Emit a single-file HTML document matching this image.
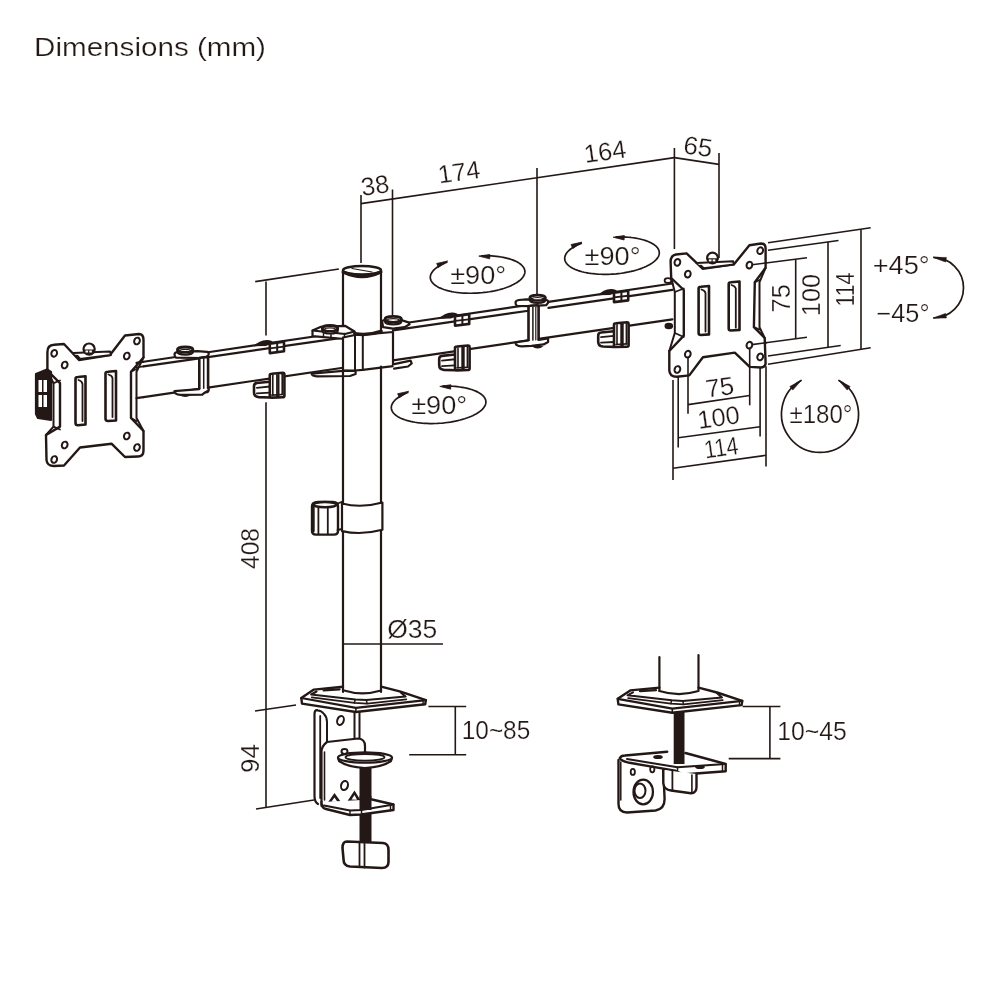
<!DOCTYPE html>
<html><head><meta charset="utf-8"><style>
html,body{margin:0;padding:0;background:#fff;width:1000px;height:1000px;overflow:hidden}
svg{display:block;will-change:transform}
text{font-family:"Liberation Sans",sans-serif}
</style></head><body>
<svg width="1000" height="1000" viewBox="0 0 1000 1000">
<g stroke="#231815" fill="none" stroke-linecap="butt">
<line x1="361.0" y1="195.0" x2="361.0" y2="263.0" stroke-width="1.6"/>
<line x1="392.5" y1="189.5" x2="392.5" y2="315.0" stroke-width="1.6"/>
<line x1="537.0" y1="168.0" x2="537.0" y2="294.0" stroke-width="1.6"/>
<line x1="674.4" y1="148.0" x2="674.4" y2="249.0" stroke-width="1.6"/>
<line x1="719.0" y1="153.0" x2="719.0" y2="258.0" stroke-width="1.6"/>
<line x1="361.0" y1="203.6" x2="674.4" y2="157.6" stroke-width="1.6"/>
<line x1="674.4" y1="157.6" x2="719.0" y2="164.4" stroke-width="1.6"/>
<line x1="255.2" y1="281.6" x2="338.9" y2="269.0" stroke-width="1.6"/>
<line x1="266.0" y1="281.6" x2="266.0" y2="335.6" stroke-width="1.6"/>
<line x1="266.0" y1="402.2" x2="266.0" y2="808.0" stroke-width="1.6"/>
<line x1="255.0" y1="711.0" x2="296.0" y2="705.0" stroke-width="1.6"/>
<line x1="256.0" y1="809.0" x2="314.0" y2="800.0" stroke-width="1.6"/>
<line x1="343.0" y1="644.0" x2="443.0" y2="644.0" stroke-width="1.6"/>
<line x1="428.4" y1="706.5" x2="466.2" y2="706.5" stroke-width="1.6"/>
<line x1="409.2" y1="754.7" x2="466.2" y2="754.7" stroke-width="1.6"/>
<line x1="455.3" y1="706.5" x2="455.3" y2="754.7" stroke-width="1.6"/>
<line x1="742.6" y1="706.5" x2="780.4" y2="706.5" stroke-width="1.6"/>
<line x1="728.7" y1="758.6" x2="780.4" y2="758.6" stroke-width="1.6"/>
<line x1="769.9" y1="706.5" x2="769.9" y2="758.6" stroke-width="1.6"/>
<line x1="768.0" y1="242.7" x2="870.7" y2="227.7" stroke-width="1.6"/>
<line x1="768.0" y1="250.2" x2="838.5" y2="240.5" stroke-width="1.6"/>
<line x1="751.5" y1="264.9" x2="807.0" y2="257.7" stroke-width="1.6"/>
<line x1="751.5" y1="344.6" x2="807.0" y2="337.2" stroke-width="1.6"/>
<line x1="768.0" y1="356.0" x2="840.7" y2="345.5" stroke-width="1.6"/>
<line x1="768.0" y1="364.2" x2="870.7" y2="347.7" stroke-width="1.6"/>
<line x1="795.7" y1="259.2" x2="795.7" y2="338.7" stroke-width="1.6"/>
<line x1="828.0" y1="242.0" x2="828.0" y2="347.0" stroke-width="1.6"/>
<line x1="861.0" y1="229.2" x2="861.0" y2="349.2" stroke-width="1.6"/>
<line x1="688.0" y1="356.5" x2="688.0" y2="413.7" stroke-width="1.6"/>
<line x1="749.7" y1="347.5" x2="749.7" y2="405.3" stroke-width="1.6"/>
<line x1="678.2" y1="372.0" x2="678.2" y2="447.5" stroke-width="1.6"/>
<line x1="760.1" y1="359.5" x2="760.1" y2="436.5" stroke-width="1.6"/>
<line x1="673.0" y1="380.0" x2="673.0" y2="480.0" stroke-width="1.6"/>
<line x1="766.0" y1="366.3" x2="766.0" y2="466.4" stroke-width="1.6"/>
<line x1="688.0" y1="404.6" x2="749.7" y2="395.5" stroke-width="1.6"/>
<line x1="678.2" y1="437.8" x2="760.1" y2="426.7" stroke-width="1.6"/>
<line x1="673.0" y1="468.3" x2="766.0" y2="455.3" stroke-width="1.6"/>
</g>
<g>
<text x="34" y="55.8" font-size="25.5" textLength="232" lengthAdjust="spacingAndGlyphs" fill="#231815" stroke="#fff" stroke-width="0.24">Dimensions (mm)</text>
<text transform="translate(375.00,185.40) rotate(-8)" x="0" y="8.74" font-size="25.4" text-anchor="middle" fill="#231815" stroke="#fff" stroke-width="0.24">38</text>
<text transform="translate(459.00,172.00) rotate(-8)" x="0" y="8.74" font-size="25.4" text-anchor="middle" fill="#231815" stroke="#fff" stroke-width="0.24">174</text>
<text transform="translate(605.00,151.50) rotate(-8)" x="0" y="8.74" font-size="25.4" text-anchor="middle" fill="#231815" stroke="#fff" stroke-width="0.24">164</text>
<text transform="translate(698.00,146.50) rotate(8)" x="0" y="8.74" font-size="25.4" text-anchor="middle" textLength="29" lengthAdjust="spacingAndGlyphs" fill="#231815" stroke="#fff" stroke-width="0.24">65</text>
<text transform="translate(250.00,548.50) rotate(-90)" x="0" y="8.74" font-size="25.4" text-anchor="middle" textLength="41" lengthAdjust="spacingAndGlyphs" fill="#231815" stroke="#fff" stroke-width="0.24">408</text>
<text transform="translate(250.00,758.50) rotate(-90)" x="0" y="8.74" font-size="25.4" text-anchor="middle" textLength="29" lengthAdjust="spacingAndGlyphs" fill="#231815" stroke="#fff" stroke-width="0.24">94</text>
<text transform="translate(412.20,628.80) rotate(0)" x="0" y="8.74" font-size="25.4" text-anchor="middle" textLength="50" lengthAdjust="spacingAndGlyphs" fill="#231815" stroke="#fff" stroke-width="0.24">Ø35</text>
<text transform="translate(496.00,729.90) rotate(0)" x="0" y="8.74" font-size="25.4" text-anchor="middle" textLength="68.5" lengthAdjust="spacingAndGlyphs" fill="#231815" stroke="#fff" stroke-width="0.24">10~85</text>
<text transform="translate(812.00,731.00) rotate(0)" x="0" y="8.74" font-size="25.4" text-anchor="middle" textLength="69.5" lengthAdjust="spacingAndGlyphs" fill="#231815" stroke="#fff" stroke-width="0.24">10~45</text>
<text transform="translate(781.00,298.30) rotate(-90)" x="0" y="8.74" font-size="25.4" text-anchor="middle" fill="#231815" stroke="#fff" stroke-width="0.24">75</text>
<text transform="translate(811.00,295.00) rotate(-90)" x="0" y="8.74" font-size="25.4" text-anchor="middle" fill="#231815" stroke="#fff" stroke-width="0.24">100</text>
<text transform="translate(845.00,289.60) rotate(-90)" x="0" y="8.74" font-size="25.4" text-anchor="middle" textLength="34" lengthAdjust="spacingAndGlyphs" fill="#231815" stroke="#fff" stroke-width="0.24">114</text>
<text transform="translate(719.80,387.10) rotate(-8)" x="0" y="8.74" font-size="25.4" text-anchor="middle" fill="#231815" stroke="#fff" stroke-width="0.24">75</text>
<text transform="translate(718.50,417.30) rotate(-8)" x="0" y="8.74" font-size="25.4" text-anchor="middle" fill="#231815" stroke="#fff" stroke-width="0.24">100</text>
<text transform="translate(721.10,447.50) rotate(-8)" x="0" y="8.74" font-size="25.4" text-anchor="middle" textLength="34" lengthAdjust="spacingAndGlyphs" fill="#231815" stroke="#fff" stroke-width="0.24">114</text>
<text transform="translate(901.20,264.80) rotate(0)" x="0" y="8.74" font-size="25.4" text-anchor="middle" textLength="57" lengthAdjust="spacingAndGlyphs" fill="#231815" stroke="#fff" stroke-width="0.24">+45°</text>
<text transform="translate(903.00,312.80) rotate(0)" x="0" y="8.74" font-size="25.4" text-anchor="middle" textLength="53" lengthAdjust="spacingAndGlyphs" fill="#231815" stroke="#fff" stroke-width="0.24">−45°</text>
<text transform="translate(821.00,414.20) rotate(0)" x="0" y="8.74" font-size="25.4" text-anchor="middle" textLength="63" lengthAdjust="spacingAndGlyphs" fill="#231815" stroke="#fff" stroke-width="0.24">±180°</text>
</g>
<g transform="translate(477.6,274.5)">
<path d="M 3.66,-18.70 L 6.25,-18.75 L 8.83,-18.74 L 11.38,-18.67 L 13.89,-18.54 L 16.36,-18.36 L 18.78,-18.13 L 21.15,-17.83 L 23.45,-17.49 L 25.68,-17.09 L 27.83,-16.64 L 29.89,-16.14 L 31.87,-15.59 L 33.75,-14.99 L 35.52,-14.35 L 37.19,-13.66 L 38.75,-12.93 L 40.18,-12.16 L 41.50,-11.36 L 42.69,-10.52 L 43.74,-9.64 L 44.67,-8.74 L 45.46,-7.82 L 46.11,-6.86 L 46.62,-5.89 L 46.99,-4.90 L 47.22,-3.90 L 47.30,-2.88 L 47.24,-1.85 L 47.04,-0.82 L 46.69,0.21 L 46.20,1.24 L 45.57,2.27 L 44.80,3.30 L 43.90,4.31 L 42.86,5.31 L 41.69,6.29 L 40.39,7.25 L 38.98,8.20 L 37.44,9.11 L 35.79,10.00 L 34.03,10.86 L 32.17,11.69 L 30.20,12.48 L 28.15,13.23 L 26.01,13.94 L 23.80,14.61 L 21.51,15.24 L 19.15,15.82 L 16.74,16.35 L 14.27,16.83 L 11.77,17.26 L 9.22,17.64 L 6.65,17.96 L 4.06,18.23 L 1.46,18.44 L -1.15,18.60 L -3.76,18.70 L -6.35,18.75 L -8.93,18.73 L -11.47,18.66 L -13.98,18.54 L -16.45,18.36 L -18.87,18.12 L -21.24,17.82 L -23.53,17.47 L -25.76,17.07 L -27.91,16.62 L -29.97,16.12 L -31.94,15.56 L -33.82,14.97 L -35.59,14.32 L -37.25,13.63 L -38.80,12.90 L -40.24,12.13 L -41.54,11.32 L -42.73,10.48 L -43.78,9.61 L -44.70,8.71 L -45.49,7.78 L -46.13,6.83 L -46.64,5.86 L -47.00,4.86 L -47.22,3.86 L -47.30,2.84 L -47.24,1.82 L -47.03,0.78 L -46.67,-0.25 L -46.18,-1.28 L -45.54,-2.31 L -44.77,-3.33 L -43.86,-4.35 L -42.82,-5.34 L -41.64,-6.33 L -40.34,-7.29 L -38.92,-8.23 L -37.38,-9.15 L -35.72,-10.04 L -33.96,-10.89 L -32.09,-11.72 L -30.13,-12.51" fill="none" stroke="#231815" stroke-width="1.7" stroke-linejoin="round"/>
<path d="M -30.00,-13.50 L -39.17,-7.04 L -40.95,-11.06 Z M 1.20,-18.40 L 12.30,-20.05 L 12.08,-15.65 Z" fill="#231815" stroke="#231815" stroke-width="0.8"/>
<text transform="translate(0.60,0.80) rotate(0)" x="0" y="8.74" font-size="25.4" text-anchor="middle" textLength="56" lengthAdjust="spacingAndGlyphs" fill="#231815" stroke="#fff" stroke-width="0.24">±90°</text>
</g>
<g transform="translate(612,255.6)">
<path d="M 3.66,-18.70 L 6.25,-18.75 L 8.83,-18.74 L 11.38,-18.67 L 13.89,-18.54 L 16.36,-18.36 L 18.78,-18.13 L 21.15,-17.83 L 23.45,-17.49 L 25.68,-17.09 L 27.83,-16.64 L 29.89,-16.14 L 31.87,-15.59 L 33.75,-14.99 L 35.52,-14.35 L 37.19,-13.66 L 38.75,-12.93 L 40.18,-12.16 L 41.50,-11.36 L 42.69,-10.52 L 43.74,-9.64 L 44.67,-8.74 L 45.46,-7.82 L 46.11,-6.86 L 46.62,-5.89 L 46.99,-4.90 L 47.22,-3.90 L 47.30,-2.88 L 47.24,-1.85 L 47.04,-0.82 L 46.69,0.21 L 46.20,1.24 L 45.57,2.27 L 44.80,3.30 L 43.90,4.31 L 42.86,5.31 L 41.69,6.29 L 40.39,7.25 L 38.98,8.20 L 37.44,9.11 L 35.79,10.00 L 34.03,10.86 L 32.17,11.69 L 30.20,12.48 L 28.15,13.23 L 26.01,13.94 L 23.80,14.61 L 21.51,15.24 L 19.15,15.82 L 16.74,16.35 L 14.27,16.83 L 11.77,17.26 L 9.22,17.64 L 6.65,17.96 L 4.06,18.23 L 1.46,18.44 L -1.15,18.60 L -3.76,18.70 L -6.35,18.75 L -8.93,18.73 L -11.47,18.66 L -13.98,18.54 L -16.45,18.36 L -18.87,18.12 L -21.24,17.82 L -23.53,17.47 L -25.76,17.07 L -27.91,16.62 L -29.97,16.12 L -31.94,15.56 L -33.82,14.97 L -35.59,14.32 L -37.25,13.63 L -38.80,12.90 L -40.24,12.13 L -41.54,11.32 L -42.73,10.48 L -43.78,9.61 L -44.70,8.71 L -45.49,7.78 L -46.13,6.83 L -46.64,5.86 L -47.00,4.86 L -47.22,3.86 L -47.30,2.84 L -47.24,1.82 L -47.03,0.78 L -46.67,-0.25 L -46.18,-1.28 L -45.54,-2.31 L -44.77,-3.33 L -43.86,-4.35 L -42.82,-5.34 L -41.64,-6.33 L -40.34,-7.29 L -38.92,-8.23 L -37.38,-9.15 L -35.72,-10.04 L -33.96,-10.89 L -32.09,-11.72 L -30.13,-12.51" fill="none" stroke="#231815" stroke-width="1.7" stroke-linejoin="round"/>
<path d="M -30.00,-13.50 L -39.17,-7.04 L -40.95,-11.06 Z M 1.20,-18.40 L 12.30,-20.05 L 12.08,-15.65 Z" fill="#231815" stroke="#231815" stroke-width="0.8"/>
<text transform="translate(0.60,0.80) rotate(0)" x="0" y="8.74" font-size="25.4" text-anchor="middle" textLength="56" lengthAdjust="spacingAndGlyphs" fill="#231815" stroke="#fff" stroke-width="0.24">±90°</text>
</g>
<g transform="translate(438.6,404.8)">
<path d="M 3.66,-18.70 L 6.25,-18.75 L 8.83,-18.74 L 11.38,-18.67 L 13.89,-18.54 L 16.36,-18.36 L 18.78,-18.13 L 21.15,-17.83 L 23.45,-17.49 L 25.68,-17.09 L 27.83,-16.64 L 29.89,-16.14 L 31.87,-15.59 L 33.75,-14.99 L 35.52,-14.35 L 37.19,-13.66 L 38.75,-12.93 L 40.18,-12.16 L 41.50,-11.36 L 42.69,-10.52 L 43.74,-9.64 L 44.67,-8.74 L 45.46,-7.82 L 46.11,-6.86 L 46.62,-5.89 L 46.99,-4.90 L 47.22,-3.90 L 47.30,-2.88 L 47.24,-1.85 L 47.04,-0.82 L 46.69,0.21 L 46.20,1.24 L 45.57,2.27 L 44.80,3.30 L 43.90,4.31 L 42.86,5.31 L 41.69,6.29 L 40.39,7.25 L 38.98,8.20 L 37.44,9.11 L 35.79,10.00 L 34.03,10.86 L 32.17,11.69 L 30.20,12.48 L 28.15,13.23 L 26.01,13.94 L 23.80,14.61 L 21.51,15.24 L 19.15,15.82 L 16.74,16.35 L 14.27,16.83 L 11.77,17.26 L 9.22,17.64 L 6.65,17.96 L 4.06,18.23 L 1.46,18.44 L -1.15,18.60 L -3.76,18.70 L -6.35,18.75 L -8.93,18.73 L -11.47,18.66 L -13.98,18.54 L -16.45,18.36 L -18.87,18.12 L -21.24,17.82 L -23.53,17.47 L -25.76,17.07 L -27.91,16.62 L -29.97,16.12 L -31.94,15.56 L -33.82,14.97 L -35.59,14.32 L -37.25,13.63 L -38.80,12.90 L -40.24,12.13 L -41.54,11.32 L -42.73,10.48 L -43.78,9.61 L -44.70,8.71 L -45.49,7.78 L -46.13,6.83 L -46.64,5.86 L -47.00,4.86 L -47.22,3.86 L -47.30,2.84 L -47.24,1.82 L -47.03,0.78 L -46.67,-0.25 L -46.18,-1.28 L -45.54,-2.31 L -44.77,-3.33 L -43.86,-4.35 L -42.82,-5.34 L -41.64,-6.33 L -40.34,-7.29 L -38.92,-8.23 L -37.38,-9.15 L -35.72,-10.04 L -33.96,-10.89 L -32.09,-11.72 L -30.13,-12.51" fill="none" stroke="#231815" stroke-width="1.7" stroke-linejoin="round"/>
<path d="M -30.00,-13.50 L -39.17,-7.04 L -40.95,-11.06 Z M 1.20,-18.40 L 12.30,-20.05 L 12.08,-15.65 Z" fill="#231815" stroke="#231815" stroke-width="0.8"/>
<text transform="translate(0.60,0.80) rotate(0)" x="0" y="8.74" font-size="25.4" text-anchor="middle" textLength="56" lengthAdjust="spacingAndGlyphs" fill="#231815" stroke="#fff" stroke-width="0.24">±90°</text>
</g>
<path d="M 933.2,257.4 A 30.3 30.3 0 0 1 933.2,318" fill="none" stroke="#231815" stroke-width="1.7"/>
<path d="M 933.20,257.40 L 946.40,257.44 L 945.59,261.97 Z M 933.20,318.00 L 945.59,313.43 L 946.40,317.96 Z" fill="#231815" stroke="#231815" stroke-width="0.6"/>
<path d="M 801.5,380.2 A 38.5 38.5 0 1 0 838.5,380.2" fill="none" stroke="#231815" stroke-width="1.7"/>
<path d="M 801.50,380.20 L 792.74,390.07 L 789.88,386.47 Z M 838.50,380.20 L 850.12,386.47 L 847.26,390.07 Z" fill="#231815" stroke="#231815" stroke-width="0.6"/>
<line x1="143.5" y1="361.78" x2="199.3" y2="353.52" stroke="#231815" stroke-width="2.2" stroke-linecap="round"/>
<line x1="143.5" y1="366.38" x2="199.3" y2="358.32" stroke="#231815" stroke-width="2.2" stroke-linecap="round"/>
<line x1="143.5" y1="397.04" x2="199.3" y2="388.84" stroke="#231815" stroke-width="2.2" stroke-linecap="round"/>
<line x1="208" y1="352.23" x2="343" y2="332.25" stroke="#231815" stroke-width="2.2" stroke-linecap="round"/>
<line x1="208" y1="357.06" x2="343" y2="337.56" stroke="#231815" stroke-width="2.2" stroke-linecap="round"/>
<line x1="208" y1="387.56" x2="343" y2="367.72" stroke="#231815" stroke-width="2.2" stroke-linecap="round"/>
<line x1="409" y1="322.48" x2="528.5" y2="304.8" stroke="#231815" stroke-width="2.2" stroke-linecap="round"/>
<line x1="393" y1="330.33" x2="528.5" y2="310.75" stroke="#231815" stroke-width="2.2" stroke-linecap="round"/>
<line x1="393" y1="360.37" x2="528.5" y2="340.45" stroke="#231815" stroke-width="2.2" stroke-linecap="round"/>
<line x1="548.4" y1="301.85" x2="672.4" y2="283.5" stroke="#231815" stroke-width="2.2" stroke-linecap="round"/>
<line x1="548.4" y1="307.88" x2="672.4" y2="289.96" stroke="#231815" stroke-width="2.2" stroke-linecap="round"/>
<line x1="538.6" y1="338.96" x2="672.4" y2="319.3" stroke="#231815" stroke-width="2.2" stroke-linecap="round"/>
<path d="M 253.8,346.25 Q 258.8,340.21 266.8,339.93 Q 271.8,339.79 273.8,342.99 L 265.8,345.88 Z" fill="#231815"/>
<path d="M 269.8,343.69 L 284,341.69 L 284,351.29 L 269.8,353.09 Z" fill="#fff" stroke="#231815" stroke-width="2.6" stroke-linejoin="round" stroke-linecap="round" />
<line x1="277.2" y1="342.89" x2="277.2" y2="352.29" stroke="#231815" stroke-width="2" stroke-linecap="round"/>
<line x1="269.8" y1="348.29" x2="284" y2="346.69" stroke="#231815" stroke-width="1.8" stroke-linecap="round"/>
<path d="M 269.8,381.78 L 256.8,383.08 Q 254,383.28 254,386.28 L 254,392.28 Q 254,396.78 258.8,397.08 L 269.8,397.48" fill="#fff" stroke="#231815" stroke-width="2.6" stroke-linejoin="round" stroke-linecap="round" />
<line x1="256.8" y1="387.78" x2="269.8" y2="386.48" stroke="#231815" stroke-width="1.8" stroke-linecap="round"/>
<line x1="256.8" y1="393.28" x2="269.8" y2="392.58" stroke="#231815" stroke-width="1.8" stroke-linecap="round"/>
<path d="M 269.8,375.28 Q 269.8,373.78 271.8,373.78 L 282.8,372.78 Q 284.4,372.78 284.4,374.78 L 284.4,395.78 Q 284.4,397.28 282.8,397.28 L 271.8,397.58 Q 269.8,397.58 269.8,395.78 Z" fill="#fff" stroke="#231815" stroke-width="2.6" stroke-linejoin="round" stroke-linecap="round" />
<line x1="272.8" y1="375.28" x2="272.8" y2="394.78" stroke="#231815" stroke-width="1.6" stroke-linecap="round"/>
<line x1="277" y1="374.78" x2="277" y2="397.28" stroke="#231815" stroke-width="1.8" stroke-linecap="round"/>
<line x1="278.6" y1="374.78" x2="278.6" y2="397.28" stroke="#231815" stroke-width="1.8" stroke-linecap="round"/>
<line x1="282.2" y1="374.28" x2="282.2" y2="394.28" stroke="#231815" stroke-width="1.6" stroke-linecap="round"/>
<line x1="271.8" y1="395.08" x2="282.8" y2="394.48" stroke="#231815" stroke-width="1.6" stroke-linecap="round"/>
<path d="M 439,318.84 Q 444,312.8 452,312.52 Q 457,312.38 459,315.58 L 451,318.47 Z" fill="#231815"/>
<path d="M 455,316.28 L 469.2,314.28 L 469.2,323.88 L 455,325.68 Z" fill="#fff" stroke="#231815" stroke-width="2.6" stroke-linejoin="round" stroke-linecap="round" />
<line x1="462.4" y1="315.48" x2="462.4" y2="324.88" stroke="#231815" stroke-width="2" stroke-linecap="round"/>
<line x1="455" y1="320.88" x2="469.2" y2="319.28" stroke="#231815" stroke-width="1.8" stroke-linecap="round"/>
<path d="M 455,354.55 L 442,355.85 Q 439.2,356.05 439.2,359.05 L 439.2,365.05 Q 439.2,369.55 444,369.85 L 455,370.25" fill="#fff" stroke="#231815" stroke-width="2.6" stroke-linejoin="round" stroke-linecap="round" />
<line x1="442" y1="360.55" x2="455" y2="359.25" stroke="#231815" stroke-width="1.8" stroke-linecap="round"/>
<line x1="442" y1="366.05" x2="455" y2="365.35" stroke="#231815" stroke-width="1.8" stroke-linecap="round"/>
<path d="M 455,348.05 Q 455,346.55 457,346.55 L 468,345.55 Q 469.6,345.55 469.6,347.55 L 469.6,368.55 Q 469.6,370.05 468,370.05 L 457,370.35 Q 455,370.35 455,368.55 Z" fill="#fff" stroke="#231815" stroke-width="2.6" stroke-linejoin="round" stroke-linecap="round" />
<line x1="458" y1="348.05" x2="458" y2="367.55" stroke="#231815" stroke-width="1.6" stroke-linecap="round"/>
<line x1="462.2" y1="347.55" x2="462.2" y2="370.05" stroke="#231815" stroke-width="1.8" stroke-linecap="round"/>
<line x1="463.8" y1="347.55" x2="463.8" y2="370.05" stroke="#231815" stroke-width="1.8" stroke-linecap="round"/>
<line x1="467.4" y1="347.05" x2="467.4" y2="367.05" stroke="#231815" stroke-width="1.6" stroke-linecap="round"/>
<line x1="457" y1="367.85" x2="468" y2="367.25" stroke="#231815" stroke-width="1.6" stroke-linecap="round"/>
<path d="M 598,295.31 Q 603,289.27 611,288.99 Q 616,288.85 618,292.05 L 610,294.94 Z" fill="#231815"/>
<path d="M 614,292.74 L 628.2,290.74 L 628.2,300.34 L 614,302.14 Z" fill="#fff" stroke="#231815" stroke-width="2.6" stroke-linejoin="round" stroke-linecap="round" />
<line x1="621.4" y1="291.94" x2="621.4" y2="301.34" stroke="#231815" stroke-width="2" stroke-linecap="round"/>
<line x1="614" y1="297.34" x2="628.2" y2="295.74" stroke="#231815" stroke-width="1.8" stroke-linecap="round"/>
<path d="M 614,331.18 L 601,332.48 Q 598.2,332.68 598.2,335.68 L 598.2,341.68 Q 598.2,346.18 603,346.48 L 614,346.88" fill="#fff" stroke="#231815" stroke-width="2.6" stroke-linejoin="round" stroke-linecap="round" />
<line x1="601" y1="337.18" x2="614" y2="335.88" stroke="#231815" stroke-width="1.8" stroke-linecap="round"/>
<line x1="601" y1="342.68" x2="614" y2="341.98" stroke="#231815" stroke-width="1.8" stroke-linecap="round"/>
<path d="M 614,324.68 Q 614,323.18 616,323.18 L 627,322.18 Q 628.6,322.18 628.6,324.18 L 628.6,345.18 Q 628.6,346.68 627,346.68 L 616,346.98 Q 614,346.98 614,345.18 Z" fill="#fff" stroke="#231815" stroke-width="2.6" stroke-linejoin="round" stroke-linecap="round" />
<line x1="617" y1="324.68" x2="617" y2="344.18" stroke="#231815" stroke-width="1.6" stroke-linecap="round"/>
<line x1="621.2" y1="324.18" x2="621.2" y2="346.68" stroke="#231815" stroke-width="1.8" stroke-linecap="round"/>
<line x1="622.8" y1="324.18" x2="622.8" y2="346.68" stroke="#231815" stroke-width="1.8" stroke-linecap="round"/>
<line x1="626.4" y1="323.68" x2="626.4" y2="343.68" stroke="#231815" stroke-width="1.6" stroke-linecap="round"/>
<line x1="616" y1="344.48" x2="627" y2="343.88" stroke="#231815" stroke-width="1.6" stroke-linecap="round"/>
<path d="M 174.5,354.6 Q 174.5,352.1 178,351.8 L 197.3,351.1 L 207.1,351.8 Q 209.1,352.6 208.6,354.6 L 206.6,357 L 200.8,358 L 176,357.6 Q 174.5,356.6 174.5,354.6 Z" fill="#fff" stroke="#231815" stroke-width="2.2" stroke-linejoin="round" stroke-linecap="round" />
<path d="M 177.5,349.6 L 177.5,352 A 7.7 2.6 0 0 0 192.9,352 L 192.9,349.6" fill="#fff" stroke="#231815" stroke-width="2.2" stroke-linejoin="round" stroke-linecap="round" />
<ellipse cx="185.2" cy="349.6" rx="7.7" ry="2.6" fill="#fff" stroke="#231815" stroke-width="2.8" transform="rotate(0 185.2 349.6)"/>
<ellipse cx="185.2" cy="350.5" rx="5.2" ry="1.2" fill="#fff" stroke="#231815" stroke-width="1.2" transform="rotate(0 185.2 350.5)"/>
<path d="M 199.3,359.1 Q 199.3,357.6 200.8,357.6 L 206.6,357 Q 208.1,357 208.1,358.6 L 208.1,390.55 Q 208.1,392.05 206.6,392.05 L 200.8,392.55 Q 199.3,392.55 199.3,391.05 Z" fill="#fff" stroke="#231815" stroke-width="2.6" stroke-linejoin="round" stroke-linecap="round" />
<line x1="203.7" y1="358.6" x2="203.7" y2="391.55" stroke="#231815" stroke-width="1.5" stroke-linecap="round"/>
<path d="M 174.5,391.05 L 199.3,389.05 M 208.1,388.55 L 208.6,387.05 L 208.6,390.55 L 204.1,393.05 L 202.3,394.55 L 180.5,394.95 Q 174.5,394.55 174.5,391.05" fill="#fff" stroke="#231815" stroke-width="2.2" stroke-linejoin="round" stroke-linecap="round" />
<path d="M 179.2,394.55 Q 185.2,399.55 191.2,394.55 Z" fill="#231815"/>
<path d="M 515.5,302.8 Q 515.5,300.3 519,300 L 526.5,299.3 L 546.6,300 Q 548.6,300.8 548.1,302.8 L 546.1,305.2 L 530,306.2 L 517,305.8 Q 515.5,304.8 515.5,302.8 Z" fill="#fff" stroke="#231815" stroke-width="2.2" stroke-linejoin="round" stroke-linecap="round" />
<path d="M 529.9,297.8 L 529.9,300.2 A 7.7 2.6 0 0 0 545.3,300.2 L 545.3,297.8" fill="#fff" stroke="#231815" stroke-width="2.2" stroke-linejoin="round" stroke-linecap="round" />
<ellipse cx="537.6" cy="297.8" rx="7.7" ry="2.6" fill="#fff" stroke="#231815" stroke-width="2.8" transform="rotate(0 537.6 297.8)"/>
<ellipse cx="537.6" cy="298.7" rx="5.2" ry="1.2" fill="#fff" stroke="#231815" stroke-width="1.2" transform="rotate(0 537.6 298.7)"/>
<path d="M 528.5,307.3 Q 528.5,305.8 530,305.8 L 537.1,305.2 Q 538.6,305.2 538.6,306.8 L 538.6,341.96 Q 538.6,343.46 537.1,343.46 L 530,343.96 Q 528.5,343.96 528.5,342.46 Z" fill="#fff" stroke="#231815" stroke-width="2.6" stroke-linejoin="round" stroke-linecap="round" />
<line x1="532.9" y1="306.8" x2="532.9" y2="342.96" stroke="#231815" stroke-width="1.5" stroke-linecap="round"/>
<line x1="535.8" y1="307.3" x2="535.8" y2="342.46" stroke="#231815" stroke-width="1.2" stroke-linecap="round"/>
<path d="M 515.5,342.46 L 528.5,340.46 M 538.6,339.96 L 548.1,338.46 L 548.1,341.96 L 543.6,344.46 L 531.5,345.96 L 521.5,346.36 Q 515.5,345.96 515.5,342.46" fill="#fff" stroke="#231815" stroke-width="2.2" stroke-linejoin="round" stroke-linecap="round" />
<path d="M 531.6,345.96 Q 537.6,350.96 543.6,345.96 Z" fill="#231815"/>
<line x1="343" y1="270.5" x2="343" y2="336" stroke="#231815" stroke-width="2.2" stroke-linecap="round"/>
<line x1="381" y1="270.5" x2="381" y2="332" stroke="#231815" stroke-width="2.2" stroke-linecap="round"/>
<ellipse cx="362" cy="270.2" rx="19" ry="4.2" fill="#fff" stroke="#231815" stroke-width="2.4" transform="rotate(0 362 270.2)"/>
<path d="M 343.2,272 Q 362,281 380.8,272" fill="none" stroke="#231815" stroke-width="3.4" stroke-linejoin="round" stroke-linecap="round" />
<line x1="352" y1="268.5" x2="372" y2="272" stroke="#231815" stroke-width="1.2" stroke-linecap="round"/>
<path d="M 312.5,330.5 L 321,326.8 L 345,325.8 L 354.5,331.5 L 354.5,336 L 345,339 L 312.5,336.2 Z" fill="#fff" stroke="#231815" stroke-width="2.2" stroke-linejoin="round" stroke-linecap="round" />
<path d="M 312.5,330.5 L 345,334 L 354.5,331.5" fill="none" stroke="#231815" stroke-width="2" stroke-linejoin="round" stroke-linecap="round" />
<line x1="323.5" y1="333.5" x2="323.5" y2="337.5" stroke="#231815" stroke-width="1.5" stroke-linecap="round"/>
<line x1="331" y1="333.5" x2="331" y2="337.5" stroke="#231815" stroke-width="1.5" stroke-linecap="round"/>
<line x1="344.5" y1="333.5" x2="344.5" y2="337.5" stroke="#231815" stroke-width="1.5" stroke-linecap="round"/>
<path d="M 322.25,328.3 L 322.25,330.7 A 7.75 2.8 0 0 0 337.75,330.7 L 337.75,328.3" fill="#fff" stroke="#231815" stroke-width="2.2" stroke-linejoin="round" stroke-linecap="round" />
<ellipse cx="330" cy="328.3" rx="7.75" ry="2.8" fill="#fff" stroke="#231815" stroke-width="2.8" transform="rotate(0 330 328.3)"/>
<ellipse cx="330" cy="329.2" rx="5.25" ry="1.4" fill="#fff" stroke="#231815" stroke-width="1.2" transform="rotate(0 330 329.2)"/>
<path d="M 382,320.9 L 391.9,317 L 408.4,322.4 L 409.6,324.3 L 404.6,327.2 L 393,328.7 L 383.1,327.2 Z" fill="#fff" stroke="#231815" stroke-width="2.2" stroke-linejoin="round" stroke-linecap="round" />
<path d="M 385,319.2 L 385,321.6 A 8.2 2.8 0 0 0 401.4,321.6 L 401.4,319.2" fill="#fff" stroke="#231815" stroke-width="2.2" stroke-linejoin="round" stroke-linecap="round" />
<ellipse cx="393.2" cy="319.2" rx="8.2" ry="2.8" fill="#fff" stroke="#231815" stroke-width="2.8" transform="rotate(0 393.2 319.2)"/>
<ellipse cx="393.2" cy="320.1" rx="5.7" ry="1.4" fill="#fff" stroke="#231815" stroke-width="1.2" transform="rotate(0 393.2 320.1)"/>
<path d="M 343,337.5 L 355,335 L 362.8,334.6 L 393,332 L 393,366.2 L 362.8,369.8 L 355,370.5 L 343,370.5 Z" fill="#fff" stroke="#231815" stroke-width="2.2" stroke-linejoin="round" stroke-linecap="round" />
<line x1="355" y1="335.5" x2="355" y2="370.5" stroke="#231815" stroke-width="2" stroke-linecap="round"/>
<line x1="362.8" y1="334.8" x2="362.8" y2="369.8" stroke="#231815" stroke-width="2" stroke-linecap="round"/>
<path d="M 355,333.8 Q 368,336 381,331.4" fill="none" stroke="#231815" stroke-width="3.6" stroke-linejoin="round" stroke-linecap="round" />
<path d="M 311.6,373.6 L 343,370.8 L 355.6,371 L 355.6,374 L 350,376 L 317,376.4 Q 311.6,376 311.6,373.6 Z" fill="#fff" stroke="#231815" stroke-width="2.2" stroke-linejoin="round" stroke-linecap="round" />
<path d="M 393,364.4 L 410.6,360.6 L 411.7,363.5 L 408,366.5 L 394.1,368.6" fill="#fff" stroke="#231815" stroke-width="2.2" stroke-linejoin="round" stroke-linecap="round" />
<line x1="343" y1="370.5" x2="343" y2="692" stroke="#231815" stroke-width="2.2" stroke-linecap="round"/>
<line x1="381" y1="366.5" x2="381" y2="692" stroke="#231815" stroke-width="2.2" stroke-linecap="round"/>
<path d="M 342,503.5 Q 361,508.5 382.4,502.5 L 382.4,529.8 Q 361,535.5 342,531.1 Z" fill="#fff" stroke="#231815" stroke-width="2.2" stroke-linejoin="round" stroke-linecap="round" />
<path d="M 312,506 Q 312,502.5 318,502 L 333,502 Q 338,502.5 338,506 L 338,531 Q 338,534.6 334,534.6 L 316,534.6 Q 312,534.4 312,531 Z" fill="#fff" stroke="#231815" stroke-width="2.4" stroke-linejoin="round" stroke-linecap="round" />
<ellipse cx="325" cy="504.6" rx="11.5" ry="2.6" fill="#fff" stroke="#231815" stroke-width="2.6" transform="rotate(0 325 504.6)"/>
<path d="M 313.2,506 L 313.2,531" fill="none" stroke="#231815" stroke-width="3" stroke-linejoin="round" stroke-linecap="round" />
<line x1="318.4" y1="508" x2="318.4" y2="534" stroke="#231815" stroke-width="1.8" stroke-linecap="round"/>
<line x1="327.8" y1="508" x2="327.8" y2="534" stroke="#231815" stroke-width="1.8" stroke-linecap="round"/>
<path d="M 337.5,503.5 L 342,501.8 M 337.5,530 L 342,529" fill="none" stroke="#231815" stroke-width="1.8" stroke-linejoin="round" stroke-linecap="round" />
<path d="M 301.3,698 L 313.9,689.6 L 343,686.8 M 382.1,686.8 L 400.6,691.7 L 425.9,700.1 L 425.2,704.3 L 355.9,712 L 302,703.6 L 301.3,698" fill="none" stroke="#231815" stroke-width="2.4" stroke-linejoin="round" stroke-linecap="round" />
<path d="M 301.3,698 L 355.9,707.8 L 425.9,700.1" fill="none" stroke="#231815" stroke-width="2.2" stroke-linejoin="round" stroke-linecap="round" />
<line x1="355.9" y1="707.8" x2="355.9" y2="712" stroke="#231815" stroke-width="1.6" stroke-linecap="round"/>
<line x1="423.1" y1="700.7" x2="423.1" y2="704.7" stroke="#231815" stroke-width="1.4" stroke-linecap="round"/>
<path d="M 316.6,691.5 L 311.1,694.5 L 355.2,699.4 L 366.4,700.1 L 405.6,696.6 L 400.7,692.4" fill="none" stroke="#231815" stroke-width="2" stroke-linejoin="round" stroke-linecap="round" />
<path d="M 311.8,697.3 L 354.5,702.9 L 367.1,703.6 L 406.3,699.4" fill="none" stroke="#231815" stroke-width="1.8" stroke-linejoin="round" stroke-linecap="round" />
<line x1="355.2" y1="699.4" x2="354.5" y2="702.9" stroke="#231815" stroke-width="1.5" stroke-linecap="round"/>
<line x1="366.4" y1="700.1" x2="367.1" y2="703.6" stroke="#231815" stroke-width="1.5" stroke-linecap="round"/>
<path d="M 323.6,690.4 L 339.6,689.4" fill="none" stroke="#231815" stroke-width="2.2" stroke-linejoin="round" stroke-linecap="round" />
<path d="M 343,690.2 Q 362.2,696.2 381.1,690.5" fill="none" stroke="#231815" stroke-width="2.2" stroke-linejoin="round" stroke-linecap="round" />
<path d="M 317,710 Q 314.5,710 314.5,714 L 314.5,796 Q 314.5,802 318,804" fill="none" stroke="#231815" stroke-width="2.2" stroke-linejoin="round" stroke-linecap="round" />
<path d="M 317,710.5 Q 321,710 324,714 Q 327,717 327,722 L 327,742" fill="none" stroke="#231815" stroke-width="2" stroke-linejoin="round" stroke-linecap="round" />
<line x1="320.2" y1="716" x2="320.2" y2="798" stroke="#231815" stroke-width="1.8" stroke-linecap="round"/>
<line x1="354.5" y1="712" x2="354.5" y2="739" stroke="#231815" stroke-width="2" stroke-linecap="round"/>
<line x1="359.5" y1="712" x2="359.5" y2="738.5" stroke="#231815" stroke-width="2" stroke-linecap="round"/>
<ellipse cx="340.5" cy="720.5" rx="3.2" ry="4.6" fill="none" stroke="#231815" stroke-width="2" transform="rotate(20 340.5 720.5)"/>
<path d="M 321.5,806 L 321.5,752 Q 321.5,746 327,742 L 358,738.5 Q 365,739 365,746 L 365,752" fill="#fff" stroke="#231815" stroke-width="2.2" stroke-linejoin="round" stroke-linecap="round" />
<line x1="324.5" y1="752" x2="324.5" y2="800" stroke="#231815" stroke-width="1.6" stroke-linecap="round"/>
<path d="M 338,758 L 339,761 Q 347,767 365,768 Q 383,767 391,761 L 392,758" fill="#fff" stroke="#231815" stroke-width="2.2" stroke-linejoin="round" stroke-linecap="round" />
<ellipse cx="365" cy="757.5" rx="27" ry="5.2" fill="#fff" stroke="#231815" stroke-width="2.2" transform="rotate(0 365 757.5)"/>
<ellipse cx="365" cy="757.3" rx="19.5" ry="3.3" fill="none" stroke="#231815" stroke-width="1.8" transform="rotate(0 365 757.3)"/>
<ellipse cx="344.5" cy="751.5" rx="3" ry="2.4" fill="#fff" stroke="#231815" stroke-width="2" transform="rotate(0 344.5 751.5)"/>
<rect x="359.5" y="767.5" width="12" height="39" fill="#231815"/>
<rect x="359.5" y="814" width="12" height="28" fill="#231815"/>
<path d="M 327.5,803 L 334.5,793 L 342,803.5 Z M 347.5,801 L 354.5,790.5 L 361,801 Z" fill="#231815"/>
<path d="M 331.5,801.5 L 334.5,797.5 L 337.5,802 Z M 351.5,799.5 L 354.5,795 L 357,799.8 Z" fill="#fff"/>
<ellipse cx="344.5" cy="785.5" rx="3.4" ry="4.6" fill="none" stroke="#231815" stroke-width="2" transform="rotate(15 344.5 785.5)"/>
<path d="M 321.5,802 Q 321.5,808 326,809 L 350,815 L 361,814.5 L 393.5,810 L 393.5,804.5 L 372,799.5" fill="#fff" stroke="#231815" stroke-width="2.4" stroke-linejoin="round" stroke-linecap="round" />
<path d="M 324,805.5 L 350,810.5 L 361.5,810 L 393.5,804.5" fill="none" stroke="#231815" stroke-width="2" stroke-linejoin="round" stroke-linecap="round" />
<line x1="350" y1="810.5" x2="350" y2="815" stroke="#231815" stroke-width="1.5" stroke-linecap="round"/>
<line x1="361.5" y1="810" x2="361.5" y2="814.5" stroke="#231815" stroke-width="1.5" stroke-linecap="round"/>
<line x1="390.5" y1="805.5" x2="390.5" y2="810.5" stroke="#231815" stroke-width="1.5" stroke-linecap="round"/>
<rect x="359.5" y="796" width="12" height="14" fill="#231815"/>
<path d="M 347,841.5 L 383,843 Q 388.5,843.5 388.5,850 L 388.5,862 Q 388.5,868 382,868 L 350,866.5 Q 343.5,866 343.5,859 L 342.5,848 Q 342.5,841.5 347,841.5 Z" fill="#fff" stroke="#231815" stroke-width="2.6" stroke-linejoin="round" stroke-linecap="round" />
<line x1="359.5" y1="842" x2="359.5" y2="867" stroke="#231815" stroke-width="1.8" stroke-linecap="round"/>
<line x1="364.5" y1="842.5" x2="364.5" y2="867.5" stroke="#231815" stroke-width="1.8" stroke-linecap="round"/>
<line x1="659.4" y1="657" x2="659.4" y2="691" stroke="#231815" stroke-width="2.2" stroke-linecap="round"/>
<line x1="698.5" y1="655" x2="698.5" y2="691" stroke="#231815" stroke-width="2.2" stroke-linecap="round"/>
<path d="M 617.7,698.8 L 630.3,690.4 L 659.4,687.6 M 698.5,687.6 L 717,692.5 L 742.3,700.9 L 741.6,705.1 L 672.3,712.8 L 618.4,704.4 L 617.7,698.8" fill="none" stroke="#231815" stroke-width="2.4" stroke-linejoin="round" stroke-linecap="round" />
<path d="M 617.7,698.8 L 672.3,708.6 L 742.3,700.9" fill="none" stroke="#231815" stroke-width="2.2" stroke-linejoin="round" stroke-linecap="round" />
<line x1="672.3" y1="708.6" x2="672.3" y2="712.8" stroke="#231815" stroke-width="1.6" stroke-linecap="round"/>
<line x1="739.5" y1="701.5" x2="739.5" y2="705.5" stroke="#231815" stroke-width="1.4" stroke-linecap="round"/>
<path d="M 633,692.3 L 627.5,695.3 L 671.6,700.2 L 682.8,700.9 L 722,697.4 L 717.1,693.2" fill="none" stroke="#231815" stroke-width="2" stroke-linejoin="round" stroke-linecap="round" />
<path d="M 628.2,698.1 L 670.9,703.7 L 683.5,704.4 L 722.7,700.2" fill="none" stroke="#231815" stroke-width="1.8" stroke-linejoin="round" stroke-linecap="round" />
<line x1="671.6" y1="700.2" x2="670.9" y2="703.7" stroke="#231815" stroke-width="1.5" stroke-linecap="round"/>
<line x1="682.8" y1="700.9" x2="683.5" y2="704.4" stroke="#231815" stroke-width="1.5" stroke-linecap="round"/>
<path d="M 640,691.2 L 656,690.2" fill="none" stroke="#231815" stroke-width="2.2" stroke-linejoin="round" stroke-linecap="round" />
<path d="M 659.4,691 Q 678.6,697 697.5,691.3" fill="none" stroke="#231815" stroke-width="2.2" stroke-linejoin="round" stroke-linecap="round" />
<path d="M 618.5,760 L 618.5,804 Q 618.5,812.5 627,812.5 L 655.5,810.5 Q 664.6,809 664.6,799 L 663.3,770" fill="#fff" stroke="#231815" stroke-width="2.4" stroke-linejoin="round" stroke-linecap="round" />
<line x1="620.8" y1="762" x2="620.8" y2="800" stroke="#231815" stroke-width="1.5" stroke-linecap="round"/>
<path d="M 619.8,758.2 Q 621,755.5 625,755.5 L 667.2,751.7 M 685.4,753 L 725.7,764 L 725.7,771.2 L 682.8,774.5 L 675,770.6 L 629.5,762.8 Q 621,761 619.8,758.2" fill="#fff" stroke="#231815" stroke-width="2.4" stroke-linejoin="round" stroke-linecap="round" />
<path d="M 627,759 L 677.5,767.3 L 725.7,764" fill="none" stroke="#231815" stroke-width="2" stroke-linejoin="round" stroke-linecap="round" />
<line x1="677.5" y1="767.3" x2="677.5" y2="771" stroke="#231815" stroke-width="1.5" stroke-linecap="round"/>
<line x1="722.5" y1="764.8" x2="722.5" y2="771.5" stroke="#231815" stroke-width="1.5" stroke-linecap="round"/>
<ellipse cx="658" cy="757" rx="4" ry="1.3" fill="#231815" stroke="#231815" stroke-width="1.6" transform="rotate(0 658 757)"/>
<ellipse cx="700" cy="767" rx="4" ry="1.3" fill="#231815" stroke="#231815" stroke-width="1.6" transform="rotate(0 700 767)"/>
<rect x="673.7" y="712" width="10.8" height="52" fill="#231815"/>
<path d="M 663.3,770 L 663.3,783 Q 664,790 671,790.5 L 691,793.3 Q 696.5,793 696.5,787 L 696.5,774" fill="#fff" stroke="#231815" stroke-width="2.4" stroke-linejoin="round" stroke-linecap="round" />
<line x1="672.4" y1="771" x2="672.4" y2="790.5" stroke="#231815" stroke-width="1.8" stroke-linecap="round"/>
<line x1="691.9" y1="775" x2="691.9" y2="792.5" stroke="#231815" stroke-width="1.6" stroke-linecap="round"/>
<ellipse cx="643.2" cy="792" rx="9.75" ry="12.4" fill="none" stroke="#231815" stroke-width="2.2" transform="rotate(0 643.2 792)"/>
<ellipse cx="640" cy="790.7" rx="5.5" ry="7.2" fill="none" stroke="#231815" stroke-width="2" transform="rotate(0 640 790.7)"/>
<ellipse cx="632.8" cy="771.9" rx="2.1" ry="3" fill="none" stroke="#231815" stroke-width="1.8" transform="rotate(0 632.8 771.9)"/>
<ellipse cx="652.3" cy="769.3" rx="2.1" ry="3" fill="none" stroke="#231815" stroke-width="1.8" transform="rotate(0 652.3 769.3)"/>
<path d="M 47.4,352 Q 47.4,345 54,344.7 L 64,344 L 79,360 L 110,355 L 125,335.5 L 139,334 Q 143.5,334 143.5,340 L 143.5,357.5 L 131,371.7 L 131,418 L 143.5,431 L 143.5,450.5 Q 143.5,456.5 138,456.5 L 125,457 L 111.5,443.7 L 80,447.5 L 64,465.5 L 54,466 Q 47,466 46.5,460 L 46,435 L 60,426.6 L 60,383.2 L 47.4,370.6 Z" fill="#fff" stroke="#231815" stroke-width="2.4" stroke-linejoin="round" stroke-linecap="round" />
<line x1="136.5" y1="362.81" x2="143.5" y2="361.78" stroke="#231815" stroke-width="2.2" stroke-linecap="round"/>
<line x1="136.5" y1="367.39" x2="143.5" y2="366.38" stroke="#231815" stroke-width="1.9" stroke-linecap="round"/>
<line x1="136.5" y1="398.07" x2="143.5" y2="397.04" stroke="#231815" stroke-width="2.2" stroke-linecap="round"/>
<path d="M 143.5,357.5 L 136.5,371.7 L 136.5,418 L 143.5,431" fill="none" stroke="#231815" stroke-width="2" stroke-linejoin="round" stroke-linecap="round" />
<path d="M 131,371.7 L 136.5,369 M 131,418 L 136.5,421" fill="none" stroke="#231815" stroke-width="1.8" stroke-linejoin="round" stroke-linecap="round" />
<path d="M 47.4,370.6 L 53.5,383.2 L 53.5,426.6 L 46,435" fill="none" stroke="#231815" stroke-width="2" stroke-linejoin="round" stroke-linecap="round" />
<path d="M 53.5,383.2 L 60,380.5 M 53.5,426.6 L 60,429.5" fill="none" stroke="#231815" stroke-width="1.8" stroke-linejoin="round" stroke-linecap="round" />
<path d="M 36,374 L 47,369.5 L 51,372 L 51,420 L 38,418 L 36,414 Z" fill="#231815" stroke="#231815" stroke-width="2.2" stroke-linejoin="round" stroke-linecap="round" />
<rect x="38.5" y="380" width="3.5" height="12" fill="#fff"/>
<rect x="38.5" y="395" width="3.5" height="12" fill="#fff"/>
<rect x="43.5" y="380" width="3.5" height="12" fill="#fff"/>
<rect x="43.5" y="395" width="3.5" height="12" fill="#fff"/>
<path d="M 36,374 L 44,372 M 38,412 L 50,414" fill="none" stroke="#231815" stroke-width="1.4" stroke-linejoin="round" stroke-linecap="round" />
<path d="M 73.2,353 L 110,351.5 L 111,355.1 L 79.8,359" fill="#fff" stroke="#231815" stroke-width="2" stroke-linejoin="round" stroke-linecap="round" />
<path d="M 74,354.5 L 79,360 L 82,359.5 L 78,355 Z" fill="#231815"/>
<ellipse cx="89.1" cy="349.1" rx="5.6" ry="5.6" fill="#fff" stroke="#231815" stroke-width="2.2" transform="rotate(0 89.1 349.1)"/>
<path d="M 83.5,349.4 A 5.6 5.6 0 0 0 94.7,349.4 Z" fill="#231815"/>
<rect x="85.5" y="350.5" width="2.6" height="2" fill="#fff"/>
<rect x="89.3" y="350.5" width="2.6" height="2" fill="#fff"/>
<ellipse cx="54.2" cy="353.3" rx="2.8" ry="3.4" fill="none" stroke="#231815" stroke-width="2" transform="rotate(20 54.2 353.3)"/>
<ellipse cx="64.7" cy="365" rx="2.8" ry="3.4" fill="none" stroke="#231815" stroke-width="2" transform="rotate(20 64.7 365)"/>
<ellipse cx="137" cy="341" rx="2.8" ry="3.4" fill="none" stroke="#231815" stroke-width="2" transform="rotate(20 137 341)"/>
<ellipse cx="126.8" cy="356" rx="2.8" ry="3.4" fill="none" stroke="#231815" stroke-width="2" transform="rotate(20 126.8 356)"/>
<ellipse cx="126.8" cy="436" rx="2.8" ry="3.4" fill="none" stroke="#231815" stroke-width="2" transform="rotate(20 126.8 436)"/>
<ellipse cx="137" cy="447.5" rx="2.8" ry="3.4" fill="none" stroke="#231815" stroke-width="2" transform="rotate(20 137 447.5)"/>
<ellipse cx="64.7" cy="445" rx="2.8" ry="3.4" fill="none" stroke="#231815" stroke-width="2" transform="rotate(20 64.7 445)"/>
<ellipse cx="54.2" cy="459.5" rx="2.8" ry="3.4" fill="none" stroke="#231815" stroke-width="2" transform="rotate(20 54.2 459.5)"/>
<path d="M 75.5,379 Q 75.5,377 78,377 L 85.5,376.2 L 85.5,424.5 L 78,425.3 Q 75.5,425.3 75.5,423 Z" fill="none" stroke="#231815" stroke-width="2.6" stroke-linejoin="round" stroke-linecap="round" />
<path d="M 78.5,380 Q 82,381 82.5,384 L 82.5,421" fill="none" stroke="#231815" stroke-width="1.8" stroke-linejoin="round" stroke-linecap="round" />
<path d="M 105.5,373.5 Q 105.5,371.7 108,371.7 L 116,371 L 116,420.5 L 108,421 Q 105.5,421 105.5,418.5 Z" fill="none" stroke="#231815" stroke-width="2.6" stroke-linejoin="round" stroke-linecap="round" />
<path d="M 108.5,374.5 Q 112,375.5 112.5,378 L 112.5,417" fill="none" stroke="#231815" stroke-width="1.8" stroke-linejoin="round" stroke-linecap="round" />
<ellipse cx="668" cy="280.5" rx="3.4" ry="2.4" fill="#fff" stroke="#231815" stroke-width="1.8" transform="rotate(0 668 280.5)"/>
<ellipse cx="668.8" cy="326" rx="3.4" ry="2.4" fill="#231815" stroke="#231815" stroke-width="1.8" transform="rotate(0 668.8 326)"/>
<path d="M 670.6,261.2 Q 671,255.2 676,254.5 L 686.6,253.4 L 702.6,268.7 L 734,264.2 L 749.4,245.3 L 761,243.5 Q 765.6,243.5 765.6,248.5 L 765.6,267.8 L 754.8,282.2 L 753.9,327.2 L 764.7,338 L 765.6,363.2 Q 765.6,367 761,367.5 L 749.7,366.9 L 734.8,352.6 L 702.9,357.2 L 689.3,375.4 L 676.9,376.7 Q 669.3,376.7 669.3,370 L 669.3,351 L 683.8,335.6 L 683.8,290 L 671.2,278 Z" fill="#fff" stroke="#231815" stroke-width="2.4" stroke-linejoin="round" stroke-linecap="round" />
<path d="M 765.6,267.8 L 759.5,282.2 L 759.5,327.2 L 764.7,338" fill="none" stroke="#231815" stroke-width="2" stroke-linejoin="round" stroke-linecap="round" />
<path d="M 754.8,282.2 L 759.5,280 M 753.9,327.2 L 759.5,329.5" fill="none" stroke="#231815" stroke-width="1.8" stroke-linejoin="round" stroke-linecap="round" />
<path d="M 671.2,278 L 674.8,292 L 674.8,333 L 669.3,351" fill="none" stroke="#231815" stroke-width="2" stroke-linejoin="round" stroke-linecap="round" />
<path d="M 674.8,292 L 683.8,288.5 M 674.8,333 L 683.8,337" fill="none" stroke="#231815" stroke-width="1.8" stroke-linejoin="round" stroke-linecap="round" />
<path d="M 696.6,263.1 L 733.2,261.3 L 733.8,264.6 L 703.8,268.2" fill="#fff" stroke="#231815" stroke-width="2" stroke-linejoin="round" stroke-linecap="round" />
<path d="M 698,265 L 702.6,268.7 L 705.5,268.4 L 701.5,264.8 Z" fill="#231815"/>
<ellipse cx="712.5" cy="258" rx="5.4" ry="5.4" fill="#fff" stroke="#231815" stroke-width="2.2" transform="rotate(0 712.5 258)"/>
<path d="M 707.1,258.3 A 5.4 5.4 0 0 0 717.9,258.3 Z" fill="#231815"/>
<rect x="708.9" y="259.4" width="2.6" height="2" fill="#fff"/>
<rect x="712.7" y="259.4" width="2.6" height="2" fill="#fff"/>
<ellipse cx="677.4" cy="262.4" rx="2.8" ry="3.4" fill="none" stroke="#231815" stroke-width="2" transform="rotate(20 677.4 262.4)"/>
<ellipse cx="687.8" cy="274.1" rx="2.8" ry="3.4" fill="none" stroke="#231815" stroke-width="2" transform="rotate(20 687.8 274.1)"/>
<ellipse cx="760.2" cy="250.7" rx="2.8" ry="3.4" fill="none" stroke="#231815" stroke-width="2" transform="rotate(20 760.2 250.7)"/>
<ellipse cx="749.4" cy="265.1" rx="2.8" ry="3.4" fill="none" stroke="#231815" stroke-width="2" transform="rotate(20 749.4 265.1)"/>
<ellipse cx="749.4" cy="345.2" rx="2.8" ry="3.4" fill="none" stroke="#231815" stroke-width="2" transform="rotate(20 749.4 345.2)"/>
<ellipse cx="760.2" cy="356.9" rx="2.8" ry="3.4" fill="none" stroke="#231815" stroke-width="2" transform="rotate(20 760.2 356.9)"/>
<ellipse cx="687.8" cy="354.2" rx="2.8" ry="3.4" fill="none" stroke="#231815" stroke-width="2" transform="rotate(20 687.8 354.2)"/>
<ellipse cx="677.4" cy="369.5" rx="2.8" ry="3.4" fill="none" stroke="#231815" stroke-width="2" transform="rotate(20 677.4 369.5)"/>
<path d="M 698.6,288.5 Q 698.6,286.7 701,286.7 L 709,286 L 709,334.4 L 701,335 Q 698.6,335 698.6,333 Z" fill="none" stroke="#231815" stroke-width="2.6" stroke-linejoin="round" stroke-linecap="round" />
<path d="M 701.5,289.5 Q 705,290.5 705.5,293 L 705.5,331.5" fill="none" stroke="#231815" stroke-width="1.8" stroke-linejoin="round" stroke-linecap="round" />
<path d="M 728.7,284 Q 728.7,282.2 731,282.2 L 739.5,281.5 L 739.5,329.9 L 731,330.5 Q 728.7,330.5 728.7,328.5 Z" fill="none" stroke="#231815" stroke-width="2.6" stroke-linejoin="round" stroke-linecap="round" />
<path d="M 731.5,285 Q 735,286 735.8,288.5 L 735.8,327.5" fill="none" stroke="#231815" stroke-width="1.8" stroke-linejoin="round" stroke-linecap="round" />
<line x1="751.8" y1="264.8" x2="767" y2="262.8" stroke="#231815" stroke-width="1.6"/>
<line x1="751.8" y1="344.6" x2="767" y2="342.6" stroke="#231815" stroke-width="1.6"/>
<line x1="688" y1="356.8" x2="688" y2="375.5" stroke="#231815" stroke-width="1.6"/>
<line x1="749.7" y1="347.8" x2="749.7" y2="367" stroke="#231815" stroke-width="1.6"/>
</svg></body></html>
